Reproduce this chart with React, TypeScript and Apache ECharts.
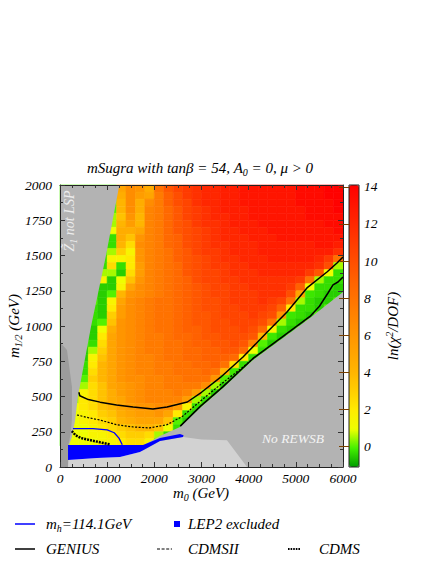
import React, { useEffect, useRef } from "react";
import * as echarts from "echarts";

const FONT = "'Liberation Serif', 'Times New Roman', serif";

// cell centres (m0 in GeV, m1/2 in GeV)
const m0Cells = [100, 300, 500, 700, 900, 1100, 1300, 1500, 1700, 1900, 2100, 2300, 2500, 2700, 2900, 3100, 3300, 3500, 3700, 3900, 4100, 4300, 4500, 4700, 4900, 5100, 5300, 5500, 5700, 5900];
const m12Cells = [1975, 1925, 1875, 1825, 1775, 1725, 1675, 1625, 1575, 1525, 1475, 1425, 1375, 1325, 1275, 1225, 1175, 1125, 1075, 1025, 975, 925, 875, 825, 775, 725, 675, 625, 575, 525, 475, 425, 375, 325, 275, 225, 175];
const CELL_W = 200;
const CELL_H = 50;

// ln(chi^2/DOF), one row per m1/2 cell (top to bottom)
const chi2Rows = [
  [0, 0, 0, 0, 0, 0, 5, 6.5, 6, 4.5, 8, 9.5, 10.5, 11, 11.5, 12, 12, 12.5, 12.5, 13, 13, 13, 13, 13, 13, 13.5, 13.5, 13.5, 14, 14],
  [0, 0, 0, 0, 0, 0, 4.5, 6.5, 5.5, 5, 7.5, 9, 10, 11, 11.5, 12, 12, 12.5, 12.5, 13, 13, 13, 13, 13, 13, 13.5, 13.5, 13.5, 14, 14],
  [0, 0, 0, 0, 0, 0, 4, 6.5, 4.5, 6.5, 7.5, 9, 10, 10.5, 11.5, 12, 12, 12.5, 12.5, 13, 13, 13, 13, 13, 13, 13.5, 13.5, 13.5, 13.5, 14],
  [0, 0, 0, 0, 0, 0, 4, 6.5, 4.5, 7, 7.5, 8.5, 9.5, 10.5, 11, 11.5, 12, 12.5, 12.5, 12.5, 13, 13, 13, 13, 13, 13, 13.5, 13.5, 13.5, 14],
  [0, 0, 0, 0, 0, 0.5, 3.5, 6, 4, 7, 7.5, 8.5, 9.5, 10.5, 11, 11.5, 12, 12, 12.5, 12.5, 13, 13, 13, 13, 13, 13, 13.5, 13.5, 13.5, 13.5],
  [0, 0, 0, 0, 0, 0.5, 4, 5.5, 4, 7, 7.5, 8.5, 9.5, 10, 11, 11.5, 11.5, 12, 12.5, 12.5, 12.5, 13, 13, 13, 13, 13, 13, 13, 13.5, 13.5],
  [0, 0, 0, 0, 0, 1, 4.5, 4.5, 5, 7, 7.5, 8.5, 9.5, 10, 10.5, 11, 11.5, 12, 12, 12.5, 12.5, 12.5, 13, 13, 13, 13, 13, 13, 13, 13.5],
  [0, 0, 0, 0, 0, -0.3, 4.5, 3.5, 6, 7, 7.5, 8.5, 9, 10, 10.5, 11, 11.5, 12, 12, 12, 12.5, 12.5, 12.5, 13, 13, 13, 13, 13, 13, 13],
  [0, 0, 0, 0, 0, -0.3, 4, 2.5, 6.5, 7, 7.5, 8.5, 9, 10, 10.5, 11, 11.5, 11.5, 12, 12, 12, 12.5, 12.5, 12.5, 12.5, 12.5, 12.5, 13, 13, 12.5],
  [0, 0, 0, 0, 0, 0.5, 3, 1.5, 6, 7, 7.5, 8, 9, 9.5, 10.5, 11, 11, 11.5, 12, 12, 12, 12.5, 12.5, 12.5, 12.5, 12.5, 12.5, 12.5, 12.5, 11.5],
  [0, 0, 0, 0, -0.3, 1.5, 1.5, 2, 6, 7, 7.5, 8, 9, 9.5, 10, 10.5, 11, 11.5, 11.5, 12, 12, 12, 12.5, 12.5, 12.5, 12.5, 12.5, 12, 11, 8],
  [0, 0, 0, 0, -0.3, 2.5, -0.3, 2, 5.5, 7, 7.5, 8, 8.5, 9.5, 10, 10.5, 11, 11, 11.5, 11.5, 12, 12, 12, 12, 12, 12, 12, 11.5, 10, 0.5],
  [0, 0, 0, 0, 0.5, 0.5, -0.5, 2.5, 5.5, 7, 7.5, 8, 8.5, 9.5, 10, 10.5, 10.5, 11, 11.5, 11.5, 11.5, 12, 12, 12, 12, 12, 11, 9.5, 1, -0.3],
  [0, 0, 0, 0, 1.5, -0.5, 1, 3.5, 6, 7, 7.5, 8, 8.5, 9, 10, 10.5, 10.5, 11, 11, 11.5, 11.5, 11.5, 11.5, 11.5, 11.5, 11, 8, 0.5, -0.3, -0.3],
  [0, 0, 0, 0, -0.5, -0.5, 1.5, 5, 6.5, 7, 7.5, 8, 8.5, 9, 9.5, 10, 10.5, 10.5, 11, 11, 11.5, 11.5, 11.5, 11.5, 11, 9, 1, -0.3, -0.3, -0.5],
  [0, 0, 0, 0, -0.5, 0, 4, 6, 6.5, 7, 7.5, 8, 8.5, 9, 9.5, 10, 10.5, 10.5, 11, 11, 11, 11.5, 11.5, 11.5, 10, 5, -0.2, -0.3, -0.5, -0.5],
  [0, 0, 0, 0, -0.5, 1.5, 5, 6.5, 7, 7.5, 8, 8, 8.5, 9, 9.5, 10, 10, 10.5, 11, 11, 11, 11.5, 11, 10.5, 8, 0.5, -0.3, -0.5, -0.5, 0],
  [0, 0, 0, -0.3, -0.5, 2, 5.5, 6.5, 7, 7.5, 8, 8, 8.5, 9, 9.5, 10, 10, 10.5, 10.5, 11, 11, 11, 10.5, 9, 2, -0.3, -0.3, -0.5, 0, 0],
  [0, 0, 0, -0.3, -0.5, 3, 5.5, 6.5, 7, 7.5, 8, 8, 8.5, 9, 9.5, 9.5, 10, 10.5, 10.5, 10.5, 11, 10.5, 10, 6, -0.2, -0.3, -0.5, 0, 0, 0],
  [0, 0, 0, -0.3, 0, 3.5, 6, 6.5, 7, 7.5, 8, 8, 8.5, 9, 9.5, 9.5, 10, 10, 10.5, 10.5, 10.5, 10, 8, 0.5, -0.3, -0.5, 0, 0, 0, 0],
  [0, 0, 0, -0.5, 1, 4.5, 6, 6.5, 7, 7.5, 8, 8, 8.5, 9, 9, 9.5, 10, 10, 10, 10.5, 10, 8.5, 1.5, -0.3, -0.5, 0, 0, 0, 0, 0],
  [0, 0, 0, -0.5, 2, 5, 6, 6.5, 7, 7.5, 7.5, 8, 8.5, 8.5, 9, 9.5, 9.5, 10, 10, 10, 9.5, 4, -0.2, -0.5, 0, 0, 0, 0, 0, 0],
  [0, 0, 0, -0.3, 2.5, 5, 6, 6.5, 7, 7.5, 7.5, 8, 8, 8.5, 9, 9, 9.5, 9.5, 10, 9.5, 7, 0, -0.5, 0, 0, 0, 0, 0, 0, 0],
  [0, 0, -0.5, 0.5, 3, 5, 6, 6.5, 7, 7.5, 7.5, 8, 8, 8.5, 8.5, 9, 9, 9.5, 9.5, 8.5, 1, -0.3, 0, 0, 0, 0, 0, 0, 0, 0],
  [0, 0, -0.5, 1.5, 3.5, 5, 6, 6.5, 7, 7, 7.5, 8, 8, 8.5, 8.5, 9, 9, 9, 8.5, 2, -0.3, 0, 0, 0, 0, 0, 0, 0, 0, 0],
  [0, 0, -0.3, 2, 4, 5, 6, 6.5, 7, 7, 7.5, 7.5, 8, 8, 8.5, 8.5, 9, 8, 2.5, -0.3, 0, 0, 0, 0, 0, 0, 0, 0, 0, 0],
  [0, 0, -0.3, 2.5, 4, 5, 6, 6.5, 7, 7, 7.5, 7.5, 8, 8, 8, 8.5, 8, 4, -0.2, 0, 0, 0, 0, 0, 0, 0, 0, 0, 0, 0],
  [0, 0, 0, 3, 4, 5, 6, 6.5, 6.5, 7, 7, 7.5, 7.5, 8, 8, 8, 6, 0, -0.5, 0, 0, 0, 0, 0, 0, 0, 0, 0, 0, 0],
  [0, 0, 0.5, 2.5, 3.5, 5, 5.5, 6, 6.5, 7, 7, 7.5, 7.5, 7.5, 7.5, 6.5, 0.5, -0.5, 0, 0, 0, 0, 0, 0, 0, 0, 0, 0, 0, 0],
  [0, 0, 1.5, 2.5, 3.5, 4.5, 5.5, 6, 6.5, 7, 7, 7, 7.5, 7, 5.5, 0.5, -0.5, 0, 0, 0, 0, 0, 0, 0, 0, 0, 0, 0, 0, 0],
  [0, 0.5, 2, 2.5, 3.5, 4.5, 5, 6, 6.5, 7, 7, 7, 7, 5.5, 0.5, -0.3, 0, 0, 0, 0, 0, 0, 0, 0, 0, 0, 0, 0, 0, 0],
  [0, 1, 2, 2.5, 3.5, 4, 5, 5.5, 6, 6, 6.5, 6.5, 5.5, 1.5, -0.3, 0, 0, 0, 0, 0, 0, 0, 0, 0, 0, 0, 0, 0, 0, 0],
  [0, 1, 1.5, 2, 3, 3.5, 4.5, 5, 5.5, 5.5, 6, 5, 2, -0.3, -0.5, 0, 0, 0, 0, 0, 0, 0, 0, 0, 0, 0, 0, 0, 0, 0],
  [0, 1, 1.5, 2, 2.5, 3, 4, 4.5, 5, 5, 5, 3.5, 0, -0.5, 0, 0, 0, 0, 0, 0, 0, 0, 0, 0, 0, 0, 0, 0, 0, 0],
  [0, 1, 1, 1.5, 2, 2.5, 3, 3.5, 4, 4, 3.5, 1, -0.3, 0, 0, 0, 0, 0, 0, 0, 0, 0, 0, 0, 0, 0, 0, 0, 0, 0],
  [0, 1, 1, 1.5, 1.5, 2, 2.5, 3, 3, 2.5, 0.5, -0.3, 0, 0, 0, 0, 0, 0, 0, 0, 0, 0, 0, 0, 0, 0, 0, 0, 0, 0],
  [0, 1, 1, 1, 1.5, 1.5, 2, 2.5, 2.5, 1.5, 0, 0, 0, 0, 0, 0, 0, 0, 0, 0, 0, 0, 0, 0, 0, 0, 0, 0, 0, 0],
];

const colorbarTicks = [0, 2, 4, 6, 8, 10, 12, 14];
const chi2Colors = ["#009c00", "#44f000", "#eeff00", "#ffec00", "#ffcf00", "#ffb600", "#ffa500", "#ff9500", "#ff8400", "#ff7200", "#ff6000", "#ff4d00", "#ff3a00", "#ff2600", "#ff1300", "#ff0000"];

// excluded regions (m0, m1/2)
const zLspRegion = [[0, 2000], [1258, 2000], [975, 1500], [660, 1000], [380, 500], [320, 330], [250, 210], [190, 156], [170, 0], [0, 0]];
const darkStrip = [[0, 885], [148, 830], [254, 567], [250, 330], [230, 250], [200, 190], [175, 156], [170, 0], [0, 0]];
const noRewsbRegion = [[6000, 0], [6000, 1241], [5300, 1057], [4728, 915], [4092, 759], [3456, 560], [2968, 418], [2544, 284], [2120, 220], [1800, 160], [1600, 0]];
const lowGrayRegion = [[170, 0], [170, 50], [784, 64], [1272, 71], [1696, 106], [2120, 184], [2608, 213], [3000, 195], [3540, 190], [3965, 0]];
const lep2Region = [[170, 156], [1760, 156], [2120, 206], [2544, 234], [2620, 225], [2608, 213], [2120, 184], [1696, 106], [1272, 71], [784, 64], [170, 50]];

// contours
const geniusUpper = [[400, 530], [420, 505], [600, 478], [850, 460], [1200, 440], [1550, 425], [1970, 411], [2270, 425], [2700, 461], [3000, 530], [3400, 635], [3880, 780], [4389, 955], [4813, 1099], [5236, 1270], [5660, 1383], [5873, 1447], [6000, 1489]];
const geniusLower = [[2550, 290], [2968, 428], [3456, 570], [4092, 770], [4728, 927], [5300, 1068], [5500, 1140], [5682, 1234], [5788, 1291], [5894, 1312], [6000, 1348]];
const cdmsII = [[360, 369], [600, 350], [850, 333], [1200, 300], [1550, 284], [1900, 277], [2270, 300], [2600, 360], [2968, 465], [3392, 582], [3880, 709], [4135, 780]];
const cdms = [[250, 255], [330, 225], [450, 205], [650, 190], [850, 175], [1060, 160]];
const higgsLine = [[275, 272], [700, 272], [1000, 263], [1150, 243], [1250, 205], [1320, 158]];

const heatData: number[][] = [];
m12Cells.forEach((m12, i) => {
  m0Cells.forEach((m0, j) => {
    heatData.push([m0, m12, chi2Rows[i][j]]);
  });
});

const subRich = {
  sub: { fontSize: 10, fontStyle: "italic", fontFamily: FONT, padding: [9, 0, 0, 0] },
  sup: { fontSize: 10, fontStyle: "italic", fontFamily: FONT, padding: [0, 0, 8, 0] },
};

function polygonSeries(points: number[][], fill: string, z: number) {
  return {
    type: "custom",
    xAxisIndex: 0,
    yAxisIndex: 0,
    silent: true,
    z,
    data: [[0, 0]],
    renderItem: (_params: any, api: any) => ({
      type: "polygon",
      shape: { points: points.map((p) => api.coord(p)) },
      style: { fill },
    }),
  };
}

function lineSeries(points: number[][], color: string, width: number, type: any, z: number) {
  return {
    type: "line",
    xAxisIndex: 0,
    yAxisIndex: 0,
    data: points,
    symbol: "none",
    showSymbol: false,
    silent: true,
    z,
    lineStyle: { color, width, type },
  };
}

function txt(x: number, y: number, text: string, opts: any = {}) {
  return {
    type: "text",
    x,
    y,
    rotation: opts.rotation || 0,
    z: 20,
    style: {
      text,
      fontFamily: FONT,
      fontStyle: "italic",
      fontSize: opts.fontSize || 15,
      fill: opts.fill || "#000",
      align: opts.align || "left",
      textAlign: opts.align || "left",
      verticalAlign: "middle",
      textVerticalAlign: "middle",
      rich: subRich,
    },
  };
}

const axisFont = { fontFamily: FONT, fontStyle: "italic", fontSize: 13.5, color: "#000" };
const plainNumber = (v: number) => String(v);

export default function App() {
  const ref = useRef<HTMLDivElement>(null);
  useEffect(() => {
    const chart = echarts.init(ref.current!, null, { renderer: "svg" });
    const tickStyle = { color: "#333", width: 1 };
    const option: any = {
      animation: false,
      backgroundColor: "#fff",
      grid: [
        { left: 60, top: 185, width: 283, height: 282, show: false },
        { left: 349, top: 185, width: 10, height: 282, show: true, borderColor: "#222", borderWidth: 1, backgroundColor: "transparent", z: 6 },
      ],
      xAxis: [
        {
          type: "value", gridIndex: 0, min: 0, max: 6000, interval: 1000, position: "bottom", z: 10,
          axisLine: { show: true, onZero: false, lineStyle: { color: "#222", width: 1 } },
          axisTick: { inside: true, length: 5, lineStyle: tickStyle },
          minorTick: { show: true, splitNumber: 4, length: 3, lineStyle: tickStyle },
          axisLabel: { ...axisFont, margin: 4, formatter: plainNumber },
          splitLine: { show: false },
        },
        {
          type: "value", gridIndex: 0, min: 0, max: 6000, interval: 1000, position: "top", z: 10,
          axisLine: { show: true, onZero: false, lineStyle: { color: "#222", width: 1 } },
          axisTick: { inside: true, length: 5, lineStyle: tickStyle },
          minorTick: { show: true, splitNumber: 4, length: 3, lineStyle: tickStyle },
          axisLabel: { show: false },
          splitLine: { show: false },
        },
        { type: "value", gridIndex: 1, min: 0, max: 1, show: false },
      ],
      yAxis: [
        {
          type: "value", gridIndex: 0, min: 0, max: 2000, interval: 250, position: "left", z: 10,
          axisLine: { show: true, onZero: false, lineStyle: { color: "#222", width: 1 } },
          axisTick: { inside: true, length: 5, lineStyle: tickStyle },
          minorTick: { show: true, splitNumber: 2, length: 3, lineStyle: tickStyle },
          axisLabel: { ...axisFont, margin: 8, formatter: plainNumber },
          splitLine: { show: false },
        },
        {
          type: "value", gridIndex: 0, min: 0, max: 2000, interval: 250, position: "right", z: 10,
          axisLine: { show: true, onZero: false, lineStyle: { color: "#222", width: 1 } },
          axisTick: { inside: true, length: 5, lineStyle: tickStyle },
          minorTick: { show: true, splitNumber: 2, length: 3, lineStyle: tickStyle },
          axisLabel: { show: false },
          splitLine: { show: false },
        },
        {
          type: "value", gridIndex: 1, min: -1.1, max: 14.1, position: "right", z: 10,
          axisLine: { show: false },
          splitLine: { show: false },
          axisTick: { show: true, inside: true, length: 10, customValues: colorbarTicks, lineStyle: { color: "#7a4000", width: 1 } },
          axisLabel: { ...axisFont, margin: 5, customValues: colorbarTicks, formatter: plainNumber },
        },
      ],
      visualMap: {
        type: "continuous", seriesIndex: 0, dimension: 2, min: -1.1, max: 14.1,
        calculable: false, orient: "vertical", left: 349, top: 185, itemWidth: 10, itemHeight: 282,
        padding: 0, hoverLink: false, inRange: { color: chi2Colors },
      },
      series: [
        {
          type: "custom",
          xAxisIndex: 0,
          yAxisIndex: 0,
          silent: true,
          z: 1,
          data: heatData,
          encode: { x: 0, y: 1 },
          renderItem: (_params: any, api: any) => {
            const x = api.value(0);
            const y = api.value(1);
            const p1 = api.coord([x - CELL_W / 2, y + CELL_H / 2]);
            const p2 = api.coord([x + CELL_W / 2, y - CELL_H / 2]);
            const c = api.visual("color");
            return {
              type: "rect",
              shape: { x: p1[0], y: p1[1], width: p2[0] - p1[0], height: p2[1] - p1[1] },
              style: { fill: c, stroke: c, lineWidth: 0.6 },
            };
          },
        },
        polygonSeries(noRewsbRegion, "#b3b3b3", 2),
        polygonSeries(lowGrayRegion, "#d2d2d2", 2),
        polygonSeries(zLspRegion, "#b3b3b3", 2),
        polygonSeries(darkStrip, "#9c9c9c", 2),
        polygonSeries(lep2Region, "#0000ff", 2),
        lineSeries(geniusUpper, "#000", 1.5, "solid", 4),
        lineSeries(geniusLower, "#000", 1.5, "solid", 4),
        lineSeries(cdmsII, "#000", 1.2, [2, 1.5], 4),
        lineSeries(cdms, "#000", 2.5, [2, 1], 4),
        lineSeries(higgsLine, "#0000ff", 1.3, "solid", 5),
      ],
      graphic: [
        txt(200, 168, "mSugra with tanβ = 54, A{sub|0} = 0, μ > 0", { align: "center" }),
        txt(201, 493, "m{sub|0} (GeV)", { align: "center" }),
        txt(14, 326, "m{sub|1/2} (GeV)", { align: "center", rotation: Math.PI / 2 }),
        txt(393, 326, "ln(χ{sup|2}/DOF)", { align: "center", rotation: Math.PI / 2 }),
        txt(69, 221, "Z\u0303{sub|1} not LSP", { align: "center", rotation: Math.PI / 2, fill: "#ececec", fontSize: 14 }),
        txt(293, 438, "No REWSB", { align: "center", fill: "#f4f4f4", fontSize: 13.5 }),
        { type: "line", z: 20, shape: { x1: 15, y1: 524, x2: 35, y2: 524 }, style: { stroke: "#0000ff", lineWidth: 1.5 } },
        txt(46, 524, "m{sub|h}=114.1GeV"),
        { type: "rect", z: 20, shape: { x: 174, y: 521, width: 6, height: 6 }, style: { fill: "#0000ff" } },
        txt(188, 524, "LEP2 excluded"),
        { type: "line", z: 20, shape: { x1: 15, y1: 549, x2: 35, y2: 549 }, style: { stroke: "#000", lineWidth: 1.5 } },
        txt(46, 549, "GENIUS"),
        { type: "line", z: 20, shape: { x1: 157, y1: 549, x2: 172, y2: 549 }, style: { stroke: "#000", lineWidth: 1, lineDash: [3, 1.6] } },
        txt(188, 549, "CDMSII"),
        { type: "line", z: 20, shape: { x1: 288, y1: 549, x2: 301, y2: 549 }, style: { stroke: "#000", lineWidth: 2.2, lineDash: [1.6, 1] } },
        txt(319, 549, "CDMS"),
      ],
    };
    chart.setOption(option);
    return () => chart.dispose();
  }, []);
  return <div ref={ref} style={{ position: "fixed", left: 0, top: 0, width: 436, height: 564, background: "#fff" }} />;
}
